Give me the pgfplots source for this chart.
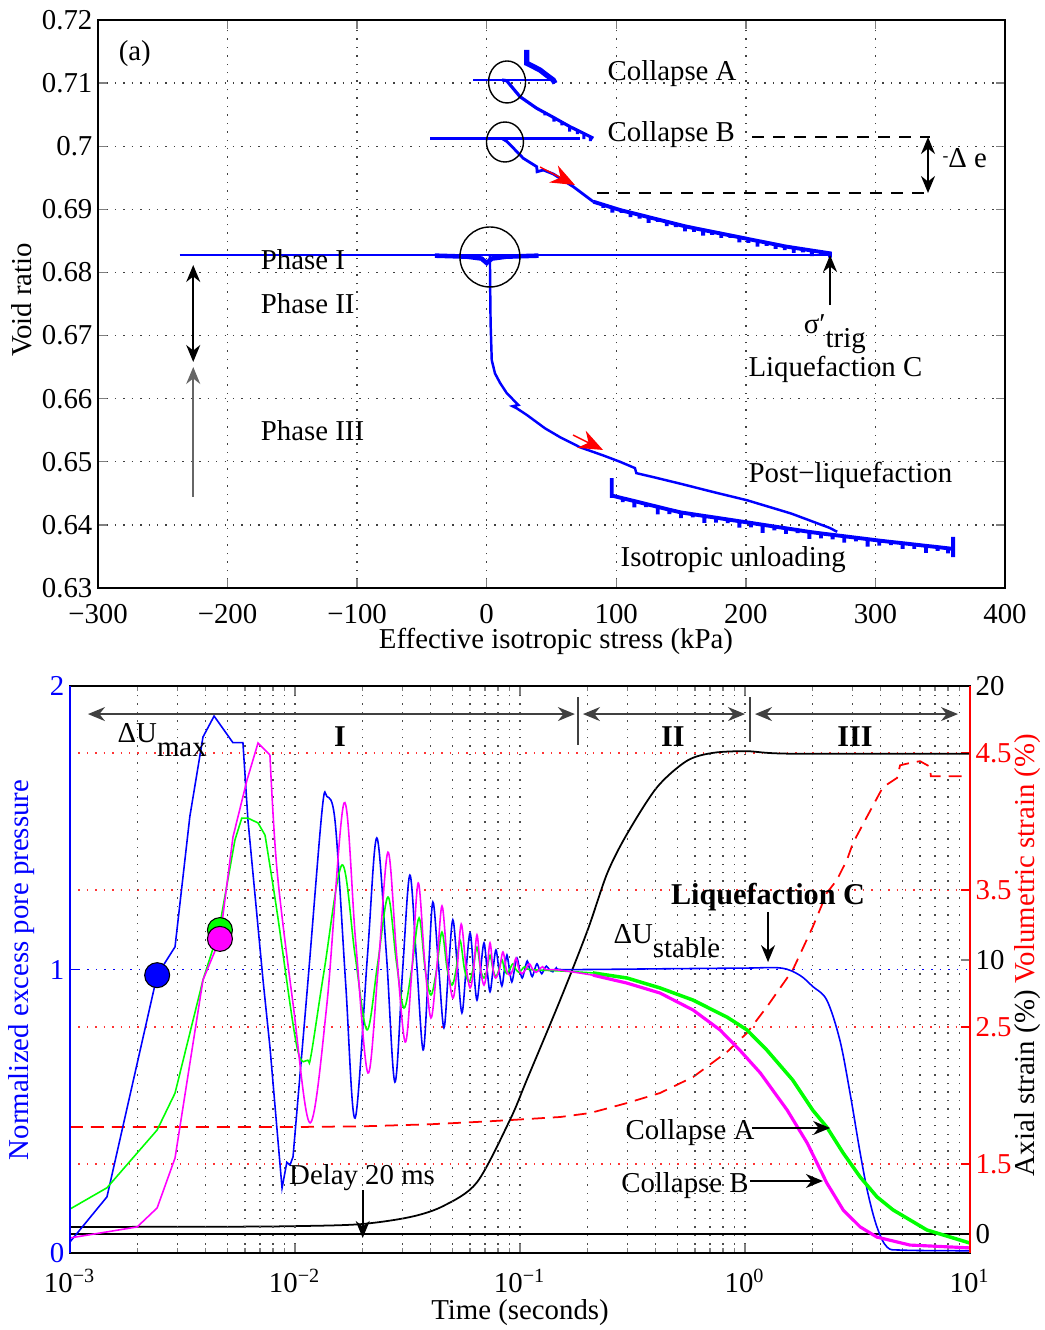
\documentclass[border=0pt]{standalone}
\usepackage{fontspec}
\setmainfont{Liberation Serif}
\usepackage{pgfplots}
\pgfplotsset{compat=1.18}
\usetikzlibrary{arrows.meta}
\definecolor{mag}{rgb}{1,0,1}
\definecolor{grn}{rgb}{0,1,0}
\newcommand{\fs}{\fontsize{8.2}{9.8}\selectfont}
\newcommand{\fb}{\fontsize{8.6}{10}\selectfont\bfseries}
\newcommand{\sub}[1]{\raisebox{-1.1ex}{#1}}
\begin{document}
\begin{tikzpicture}[
  ah/.style={black, line width=0.45pt, -{Stealth[length=1.7mm,width=1.4mm]}},
  dah/.style={black, line width=0.45pt, {Stealth[length=1.7mm,width=1.4mm]}-{Stealth[length=1.7mm,width=1.4mm]}},
  rah/.style={red, line width=0.4pt, -{Stealth[length=2.4mm,width=1.9mm]}},
  lbl/.style={font=\fs, inner sep=0pt},
]
\useasboundingbox (0,0) rectangle (104.4mm,133mm);
\pgfplotsset{every axis/.append style={scale only axis, anchor=south west, clip=false,
  tick align=inside, major tick length=0.9mm, minor tick length=0.5mm,
  tick label style={font=\fs}, yticklabel style={inner xsep=1.4pt},
  axis line style={line width=0.5pt},
  tick style={line width=0.4pt}}}

% ---------------- (a) void ratio vs effective stress
\begin{axis}[at={(9.8mm,74.2mm)}, width=90.7mm, height=56.8mm,
  xmin=-300, xmax=400, ymin=0.63, ymax=0.72,
  xtick={-300,-200,...,400},
  xticklabels={−300,−200,−100,0,100,200,300,400},
  xticklabel style={yshift=-0.35mm},
  ytick={0.63,0.64,0.65,0.66,0.67,0.68,0.69,0.70,0.71,0.72},
  yticklabels={0.63,0.64,0.65,0.66,0.67,0.68,0.69,0.7,0.71,0.72},
  tick pos=both, grid=major,
  major grid style={dotted, black!75, line width=0.4pt}]
% phase I
\addplot[blue, line width=0.8pt] coordinates {(-237,0.68276) (265,0.68276)};
\addplot[blue, line width=1.3pt] coordinates {(-40,0.68266) (-15,0.6825) (-4,0.6822) (0,0.6815) (4,0.6822) (15,0.6825) (40,0.68266)};
% phase II/III and post-liquefaction
\addplot[blue, line width=0.7pt] coordinates {(2.5,0.6827) (2.6,0.6790) (3.0,0.6720) (3.9,0.6661) (6.4,0.6640) (10.3,0.6625) (15.4,0.6609) (24.4,0.6590) (20,0.6588) (23,0.6585) (31.1,0.6574) (45,0.6553) (56.6,0.6539) (72,0.6523) (90,0.6510) (102.9,0.6500) (114.4,0.6490) (115.5,0.6482) (130,0.6475) (150,0.6465) (175,0.6452) (201,0.6439) (235,0.6418) (265,0.6395) (270.5,0.6389)};
% isotropic unloading band
\addplot[blue, line width=1.1pt] coordinates {(96.5,0.6474) (96.5,0.6446) (97.5,0.6446)
 (105,0.64422) (105,0.64362) (105,0.64422) (114,0.64377) (114,0.64277) (114,0.64377)
 (123,0.64331) (123,0.64281) (123,0.64331) (132,0.64286) (132,0.64166) (132,0.64286)
 (141,0.64240) (141,0.64170) (141,0.64240) (150,0.64197) (150,0.64107) (150,0.64197)
 (159,0.64169) (159,0.64119) (159,0.64169) (168,0.64141) (168,0.64031) (168,0.64141)
 (177,0.64114) (177,0.64034) (177,0.64114) (186,0.64086) (186,0.64026) (186,0.64086)
 (195,0.64058) (195,0.63958) (195,0.64058) (204,0.64031) (204,0.63961) (204,0.64031)
 (213,0.64002) (213,0.63872) (213,0.64002) (222,0.63974) (222,0.63914) (222,0.63974)
 (231,0.63946) (231,0.63856) (231,0.63946) (240,0.63918) (240,0.63868) (240,0.63918)
 (249,0.63889) (249,0.63779) (249,0.63889) (258,0.63865) (258,0.63785) (258,0.63865)
 (267,0.63842) (267,0.63772) (267,0.63842) (276,0.63820) (276,0.63720) (276,0.63820)
 (285,0.63797) (285,0.63737) (285,0.63797) (294,0.63774) (294,0.63654) (294,0.63774)
 (303,0.63751) (303,0.63671) (303,0.63751) (312,0.63730) (312,0.63680) (312,0.63730)
 (321,0.63710) (321,0.63620) (321,0.63710) (330,0.63689) (330,0.63619) (330,0.63689)
 (339,0.63668) (339,0.63558) (339,0.63668) (348,0.63648) (348,0.63588) (348,0.63648)
 (356,0.63629) (356,0.63549) (356,0.63629) (360,0.6362) (360,0.6381) (360,0.6349)};
% collapse B
\addplot[blue, line width=0.8pt] coordinates {(-43.6,0.7012) (72,0.7012)};
\addplot[blue, line width=0.8pt] coordinates {(12,0.7012) (15.8,0.70072) (28.2,0.69809) (38.6,0.69676) (38.9,0.69596) (43.7,0.69623) (51.4,0.6956) (66.8,0.69359) (82.3,0.69121)};
\addplot[blue, line width=1.1pt] coordinates {(82.3,0.69121)
 (90,0.69072) (90,0.69022) (90,0.69072) (97,0.69027) (97,0.68947) (97,0.69027)
 (104,0.68983) (104,0.68943) (104,0.68983) (111,0.68948) (111,0.68878) (111,0.68948)
 (118,0.68912) (118,0.68852) (118,0.68912) (125,0.68876) (125,0.68786) (125,0.68876)
 (132,0.68840) (132,0.68800) (132,0.68840) (139,0.68804) (139,0.68734) (139,0.68804)
 (146,0.68768) (146,0.68718) (146,0.68768) (153,0.68732) (153,0.68652) (153,0.68732)
 (160,0.68702) (160,0.68642) (160,0.68702) (167,0.68673) (167,0.68583) (167,0.68673)
 (174,0.68644) (174,0.68594) (174,0.68644) (181,0.68616) (181,0.68546) (181,0.68616)
 (188,0.68587) (188,0.68547) (188,0.68587) (195,0.68558) (195,0.68478) (195,0.68558)
 (202,0.68529) (202,0.68469) (202,0.68529) (209,0.68500) (209,0.68410) (209,0.68500)
 (216,0.68472) (216,0.68422) (216,0.68472) (223,0.68443) (223,0.68373) (223,0.68443)
 (230,0.68414) (230,0.68354) (230,0.68414) (237,0.68391) (237,0.68311) (237,0.68391)
 (244,0.68369) (244,0.68319) (244,0.68369) (251,0.68347) (251,0.68257) (251,0.68347)
 (258,0.68325) (258,0.68265) (258,0.68325) (265,0.68303) (265,0.68233)};
% collapse A
\addplot[blue, line width=0.8pt] coordinates {(-10.3,0.71049) (51,0.71049)};
\addplot[blue, line width=0.9pt] coordinates {(12,0.71049) (15.4,0.71038) (25.7,0.70785) (38.6,0.70601)
 (45,0.70530) (45,0.70490) (45,0.70530) (52,0.70451) (52,0.70391) (52,0.70451)
 (58,0.70382) (58,0.70332) (58,0.70382) (64,0.70313) (64,0.70233) (64,0.70313)
 (70,0.70252) (70,0.70192) (70,0.70252) (75,0.70201) (75,0.70111) (75,0.70201)
 (80,0.70150) (80,0.70080) (80,0.70150) (82.3,0.70126)};
\addplot[blue, line width=1.5pt] coordinates {(30.9,0.71525) (30.9,0.71314) (36,0.71262) (41.1,0.71208) (46,0.7113) (51.4,0.71049) (52.7,0.70997)};
% annotations
\draw[black, line width=0.4pt] (axis cs:15.7,0.71018) ellipse [x radius=1.85mm, y radius=2.1mm];
\draw[black, line width=0.4pt] (axis cs:14.1,0.70067) ellipse [x radius=1.85mm, y radius=2.0mm];
\draw[black, line width=0.4pt] (axis cs:2.5,0.68245) circle [radius=3mm];
\draw[black, dash pattern=on 1.2mm off 0.9mm, line width=0.45pt] (axis cs:204.8,0.70146) -- (axis cs:342.2,0.70146);
\draw[black, dash pattern=on 1.2mm off 0.9mm, line width=0.45pt] (axis cs:85.1,0.69259) -- (axis cs:342.2,0.69259);
\draw[dah] (axis cs:340.6,0.70146) -- (axis cs:340.6,0.69259);
\draw[dah] (axis cs:-226.5,0.68118) -- (axis cs:-226.5,0.66581);
\draw[ah, black!60] (axis cs:-226.5,0.64442) -- (axis cs:-226.5,0.66502);
\draw[ah] (axis cs:265,0.67484) -- (axis cs:265,0.68276);
\draw[rah] (axis cs:41.2,0.6967) -- (axis cs:68.1,0.69386);
\draw[rah] (axis cs:66.6,0.65424) -- (axis cs:89.8,0.65187);
\node[lbl, anchor=base west] at (axis cs:-284.5,0.71366) {(a)};
\node[lbl, anchor=base west] at (axis cs:92.8,0.71049) {Collapse A};
\node[lbl, anchor=base west] at (axis cs:92.8,0.70067) {Collapse B};
\node[lbl, anchor=base west] at (axis cs:351.3,0.69655) {\raisebox{0.5ex}{\tiny -}Δ e};
\node[lbl, anchor=base west] at (axis cs:-174.8,0.68039) {Phase I};
\node[lbl, anchor=base west] at (axis cs:-174.8,0.67357) {Phase II};
\node[lbl, anchor=base west] at (axis cs:-174.8,0.65345) {Phase III};
\node[lbl, anchor=base west] at (axis cs:244.2,0.67040) {σ′\sub{trig}};
\node[lbl, anchor=base west] at (axis cs:201.6,0.66359) {Liquefaction C};
\node[lbl, anchor=base west] at (axis cs:201.6,0.64664) {Post−liquefaction};
\node[lbl, anchor=base west] at (axis cs:102.9,0.63348) {Isotropic unloading};
\end{axis}

% ---------------- (b) volumetric strain (red, right)
\begin{axis}[at={(7mm,7.7mm)}, width=90mm, height=56.7mm,
  xmode=log, xmin=1e-3, xmax=10, hide x axis,
  axis y line*=right, axis line style={draw=none},
  ymin=0.8504, ymax=4.989, ytick={1.5,2.5,3.5,4.5},
  yticklabels={1.5,2.5,3.5,4.5},
  yticklabel style={red}, ytick style={red},
  ymajorgrids, major grid style={red!80, dotted, line width=0.45pt}]
\addplot[red, line width=0.5pt, dash pattern=on 1.3mm off 0.8mm] coordinates {
 (0.001,1.77) (0.01,1.77) (0.02,1.775) (0.04,1.79) (0.07,1.81) (0.1,1.825) (0.151,1.843)
 (0.205,1.872) (0.299,1.945) (0.419,2.018) (0.588,2.135) (0.832,2.318) (1.02,2.456)
 (1.25,2.646) (1.63,2.916) (2.0,3.23) (2.31,3.478) (2.56,3.573) (2.84,3.72) (3.02,3.843)
 (3.48,4.033) (4.1,4.25) (4.74,4.318) (4.89,4.41) (5.5,4.43) (6.0,4.44) (6.64,4.40)
 (6.7,4.33) (10,4.33)};
\end{axis}

% ---------------- (b) axial strain (black, right)
\begin{axis}[at={(7mm,7.7mm)}, width=90mm, height=56.7mm,
  xmode=log, xmin=1e-3, xmax=10, hide x axis,
  axis y line*=right, axis line style={draw=none},
  ymin=-0.69, ymax=20, ytick={0,10,20}, yticklabels={0,10,20}]
\addplot[black, line width=0.5pt] coordinates {(0.001,0) (10,0)};
\addplot[black, line width=0.5pt, smooth, tension=0.5] coordinates {
 (0.001,0.26) (0.005,0.27) (0.01,0.29) (0.0194,0.36) (0.0324,0.62) (0.0455,1.02)
 (0.0644,1.89) (0.0904,4.18) (0.1074,5.64) (0.151,8.55) (0.2,11.1) (0.244,13.16)
 (0.299,14.6) (0.406,16.3) (0.552,17.27) (0.721,17.56) (1.02,17.62) (1.6,17.53) (10,17.53)};
\end{axis}

% ---------------- (b) normalized excess pore pressure
\begin{axis}[at={(7mm,7.7mm)}, width=90mm, height=56.7mm,
  xmode=log, xmin=1e-3, xmax=10, ymin=0, ymax=2,
  ytick={0,1,2}, yticklabels={0,1,2}, ytick pos=left, xtick pos=both,
  yticklabel style={blue}, ytick style={blue},
  xticklabel style={yshift=-0.4mm},
  xtick={0.001,0.01,0.1,1,10},
  xticklabels={10\textsuperscript{−3},10\textsuperscript{−2},10\textsuperscript{−1},10\textsuperscript{0},10\textsuperscript{1}},
  minor xtick={0.002,0.003,0.004,0.005,0.006,0.007,0.008,0.009,
   0.02,0.03,0.04,0.05,0.06,0.07,0.08,0.09,0.2,0.3,0.4,0.5,0.6,0.7,0.8,0.9,
   2,3,4,5,6,7,8,9},
  xmajorgrids, xminorgrids,
  major grid style={dotted, black!70, line width=0.4pt},
  minor grid style={dotted, black!70, line width=0.4pt}]
\draw[blue, dotted, line width=0.45pt] (axis cs:0.001,1) -- (axis cs:10,1);
% blue
\addplot[blue, line width=0.45pt] coordinates {
 (0.001,0.039) (0.00146,0.198) (0.00244,0.98) (0.00293,1.08) (0.00341,1.54) (0.0039,1.82)
 (0.00437,1.894) (0.0053,1.80) (0.00587,1.80) (0.00618,1.527) (0.00721,0.963) (0.00774,0.727)
 (0.00876,0.229) (0.0092,0.32) (0.0095,0.31) (0.0098,0.339)};
\addplot[blue, line width=0.45pt, smooth, tension=0.55] coordinates {
 (0.0098,0.339) (0.01143,0.963) (0.0132,1.563) (0.01387,1.61) (0.0151,1.517) (0.0168,0.95)
 (0.0185,0.476) (0.021,1.05) (0.0231,1.464) (0.0255,1.05) (0.0278,0.603) (0.0301,1.0)
 (0.0324,1.333) (0.0347,1.03) (0.0371,0.716) (0.0391,0.98) (0.041,1.238) (0.0434,1.02)
 (0.0459,0.794) (0.0481,1.0) (0.0503,1.175) (0.0527,1.01) (0.0552,0.847) (0.0576,1.0)
 (0.06,1.129) (0.0622,1.0) (0.0644,0.892) (0.0668,1.0) (0.0692,1.094) (0.0714,1.0)
 (0.0736,0.921) (0.0759,1.0) (0.0782,1.069) (0.0806,1.0) (0.0831,0.942) (0.0853,1.0)
 (0.0875,1.051) (0.0897,1.0) (0.092,0.956) (0.0945,1.0) (0.097,1.04) (0.0996,1.0)
 (0.1023,0.97) (0.105,1.0) (0.1077,1.03) (0.1105,1.0) (0.1133,0.975) (0.1162,1.0)
 (0.119,1.02) (0.122,1.0) (0.125,0.985) (0.128,1.0) (0.131,1.012) (0.135,1.0)
 (0.14,0.992) (0.145,1.006) (0.15,1.0) (0.2,1.0) (0.5,1.003) (1.0,1.005) (1.45,1.005)
 (1.75,0.98) (2.0,0.94) (2.31,0.892) (2.64,0.751) (2.93,0.564) (3.25,0.353) (3.52,0.21)
 (3.86,0.092) (4.28,0.021) (5.04,0.01) (10,0.008)};
% green
\addplot[grn, line width=0.45pt] coordinates {
 (0.001,0.155) (0.00146,0.23) (0.00244,0.434) (0.00293,0.564) (0.0039,0.963) (0.00459,1.139)
 (0.00541,1.457) (0.0058,1.534) (0.00618,1.534) (0.00685,1.517) (0.00736,1.474)};
\addplot[grn, line width=0.45pt, smooth, tension=0.55] coordinates {
 (0.00736,1.474) (0.0083,1.21) (0.0102,0.727) (0.0114,0.68) (0.0118,0.70) (0.0135,1.0)
 (0.0162,1.369) (0.0185,1.05) (0.0209,0.787) (0.0233,1.02) (0.0259,1.256) (0.0282,1.03)
 (0.0305,0.864) (0.033,1.0) (0.0356,1.182) (0.0379,1.0) (0.0402,0.91) (0.0426,1.0)
 (0.045,1.132) (0.0475,1.0) (0.0499,0.945) (0.052,1.0) (0.0541,1.104) (0.0567,1.0)
 (0.0593,0.956) (0.0618,1.0) (0.0644,1.079) (0.0668,1.0) (0.0692,0.97) (0.0714,1.0)
 (0.0736,1.05) (0.0759,1.0) (0.0782,0.975) (0.0806,1.0) (0.0831,1.035) (0.0853,1.0)
 (0.0875,0.985) (0.09,1.0) (0.093,1.02) (0.096,1.0) (0.099,0.99) (0.102,1.0) (0.105,1.01)
 (0.11,1.0) (0.15,0.995) (0.211,0.988)};
\addplot[grn, line width=1.0pt] coordinates {
 (0.211,0.988) (0.299,0.97) (0.419,0.935) (0.588,0.892) (0.832,0.832) (1.02,0.787)
 (1.25,0.716) (1.63,0.61) (2.0,0.504) (2.31,0.444) (2.73,0.353) (3.25,0.268) (3.86,0.198)
 (4.55,0.152) (6.44,0.081) (10,0.035)};
% magenta
\addplot[mag, line width=0.45pt] coordinates {
 (0.001,0.053) (0.00199,0.092) (0.00244,0.159) (0.00293,0.335) (0.0039,0.963) (0.00464,1.108)
 (0.0053,1.467) (0.00612,1.668) (0.00685,1.799) (0.00774,1.757)};
\addplot[mag, line width=0.45pt, smooth, tension=0.55] coordinates {
 (0.00774,1.757) (0.00832,1.351) (0.0098,0.88) (0.01167,0.459) (0.01387,0.88) (0.01652,1.587)
 (0.0186,1.1) (0.0211,0.635) (0.0234,1.0) (0.0259,1.414) (0.0283,1.05) (0.0309,0.744)
 (0.0331,1.0) (0.0353,1.305) (0.0377,1.03) (0.0402,0.829) (0.0426,1.0) (0.045,1.224)
 (0.0476,1.02) (0.0503,0.899) (0.0525,1.0) (0.0548,1.16) (0.0574,1.02) (0.06,0.935)
 (0.0622,1.0) (0.0644,1.122) (0.0668,1.0) (0.0692,0.945) (0.0714,1.0) (0.0736,1.094)
 (0.0759,1.0) (0.078,0.97) (0.081,1.0) (0.084,1.062) (0.087,1.0) (0.09,0.98) (0.093,1.0)
 (0.096,1.04) (0.099,1.0) (0.102,0.985) (0.106,1.0) (0.11,1.02) (0.114,1.0) (0.118,0.99)
 (0.122,1.0) (0.126,1.01) (0.13,1.0) (0.15,0.998) (0.211,0.98)};
\addplot[mag, line width=0.9pt] coordinates {
 (0.211,0.98) (0.299,0.952) (0.419,0.917) (0.588,0.857) (0.774,0.787) (0.947,0.716)
 (1.17,0.635) (1.54,0.504) (1.89,0.388) (2.31,0.247) (2.73,0.152) (3.25,0.092)
 (3.86,0.056) (5.41,0.028) (10,0.018)};
% markers
\addplot[only marks, mark=*, mark size=1.25mm, mark options={fill=blue, draw=black, line width=0.3pt}] coordinates {(0.00244,0.98)};
\addplot[only marks, mark=*, mark size=1.25mm, mark options={fill=grn, draw=black, line width=0.3pt}] coordinates {(0.00464,1.139)};
\addplot[only marks, mark=*, mark size=1.25mm, mark options={fill=mag, draw=black, line width=0.3pt}] coordinates {(0.00464,1.108)};
% annotations
\draw[dah, black!75] (axis cs:1.202e-3,1.901) -- (axis cs:0.1754,1.901);
\draw[black!75, line width=0.45pt] (axis cs:0.1811,1.961) -- (axis cs:0.1811,1.792);
\draw[dah, black!75] (axis cs:0.1905,1.901) -- (axis cs:1.0,1.901);
\draw[black!75, line width=0.45pt] (axis cs:1.052,1.961) -- (axis cs:1.052,1.802);
\draw[dah, black!75] (axis cs:1.108,1.901) -- (axis cs:8.845,1.901);
\node[lbl, anchor=base west] at (axis cs:1.618e-3,1.802) {ΔU\sub{max}};
\node[font=\fb, inner sep=0pt, anchor=base] at (axis cs:0.01585,1.785) {I};
\node[font=\fb, inner sep=0pt, anchor=base] at (axis cs:0.4786,1.785) {II};
\node[font=\fb, inner sep=0pt, anchor=base] at (axis cs:3.08,1.785) {III};
\node[font=\fb, inner sep=0pt, anchor=base] at (axis cs:1.266,1.231) {Liquefaction C};
\draw[ah] (axis cs:1.266,1.203) -- (axis cs:1.266,1.026);
\node[lbl, anchor=base west] at (axis cs:0.2588,1.093) {ΔU\sub{stable}};
\node[lbl, anchor=base] at (axis cs:0.570,0.399) {Collapse A};
\draw[ah] (axis cs:1.074,0.441) -- (axis cs:2.39,0.441);
\node[lbl, anchor=base] at (axis cs:0.541,0.212) {Collapse B};
\draw[ah] (axis cs:1.052,0.254) -- (axis cs:2.22,0.254);
\node[lbl, anchor=base] at (axis cs:0.01987,0.240) {Delay 20 ms};
\draw[ah] (axis cs:0.02,0.222) -- (axis cs:0.02,0.053);
\draw[blue, line width=0.6pt] (rel axis cs:0,0) -- (rel axis cs:0,1);
\draw[red, line width=0.6pt] (rel axis cs:1,0) -- (rel axis cs:1,1);
\end{axis}

% axis titles
\node[font=\fs, rotate=90] at (2.2mm,103mm) {Void ratio};
\node[font=\fs] at (55.6mm,68.9mm) {Effective isotropic stress (kPa)};
\node[font=\fs, rotate=90, text=blue] at (2.2mm,36mm) {Normalized excess pore pressure};
\node[font=\fs] at (52mm,1.7mm) {Time (seconds)};
\node[font=\fs, rotate=90] at (102.8mm,37.5mm) {Axial strain (\%) \textcolor{red}{Volumetric strain (\%)}};
\end{tikzpicture}
\end{document}
